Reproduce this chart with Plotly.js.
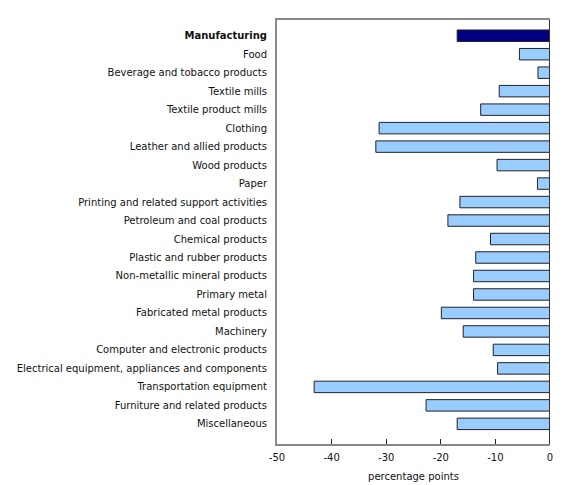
<!DOCTYPE html>
<html>
<head>
<meta charset="utf-8">
<script src="https://cdn.plot.ly/plotly-3.0.1.min.js"></script>
<style>
  body { margin: 0; background: #fff; }
  #graph { width: 580px; height: 485px; }
</style>
</head>
<body>
<div id="graph"></div>
<script>
// industries, top to bottom
const industries = [
    'Manufacturing',
    'Food',
    'Beverage and tobacco products',
    'Textile mills',
    'Textile product mills',
    'Clothing',
    'Leather and allied products',
    'Wood products',
    'Paper',
    'Printing and related support activities',
    'Petroleum and coal products',
    'Chemical products',
    'Plastic and rubber products',
    'Non-metallic mineral products',
    'Primary metal',
    'Fabricated metal products',
    'Machinery',
    'Computer and electronic products',
    'Electrical equipment, appliances and components',
    'Transportation equipment',
    'Furniture and related products',
    'Miscellaneous'
]

// change, percentage points
const change = [
    -17.0, -5.6, -2.2, -9.3, -12.7, -31.3, -31.9, -9.7, -2.3, -16.5, -18.7,
    -10.9, -13.6, -14.0, -14.0, -19.9, -15.9, -10.4, -9.6, -43.2, -22.7, -17.0
]

const xTicks = [-50, -40, -30, -20, -10, 0]

const fontFamily = 'Verdana, "DejaVu Sans", sans-serif'

let barColors = industries.map((d, i) => i === 0 ? '#000080' : '#99ccff')
let tickText = industries.map((d, i) => i === 0 ? '<b>' + d + '</b>' : d)

let data = [
    {
        type: 'bar',
        orientation: 'h',
        x: change,
        y: industries,
        marker: {
            color: barColors,
            line: {color: '#222222', width: 1}
        },
        hoverinfo: 'x+y'
    }
]

let layout = {
    width: 580,
    height: 485,
    margin: {l: 277, r: 30, t: 20, b: 41},
    paper_bgcolor: '#ffffff',
    plot_bgcolor: '#ffffff',
    showlegend: false,
    bargap: 0.38,
    font: {family: fontFamily, size: 10, color: '#111111'},
    xaxis: {
        range: [-50, 0],
        tickvals: xTicks,
        ticktext: xTicks.map(String),
        ticks: 'inside',
        ticklen: 5,
        tickcolor: '#222222',
        ticklabelstandoff: 3,
        showgrid: false,
        zeroline: false,
        showline: true,
        mirror: true,
        linecolor: '#888888',
        linewidth: 2,
        tickfont: {family: fontFamily, size: 10, color: '#111111'},
        title: {
            text: 'percentage points',
            standoff: 11,
            font: {family: fontFamily, size: 10, color: '#111111'}
        }
    },
    yaxis: {
        type: 'category',
        tickvals: industries,
        ticktext: tickText,
        range: [22.09, -0.85],
        ticks: '',
        ticklabelstandoff: 6,
        showgrid: false,
        zeroline: false,
        showline: true,
        linecolor: '#888888',
        linewidth: 2,
        tickfont: {family: fontFamily, size: 10, color: '#111111'}
    },
    shapes: [
        {
            type: 'line',
            xref: 'x', yref: 'paper',
            x0: 0, x1: 0, y0: 0, y1: 1,
            line: {color: '#333333', width: 2}
        }
    ]
};

Plotly.newPlot('graph', data, layout, {displayModeBar: false, staticPlot: true});
</script>
</body>
</html>
